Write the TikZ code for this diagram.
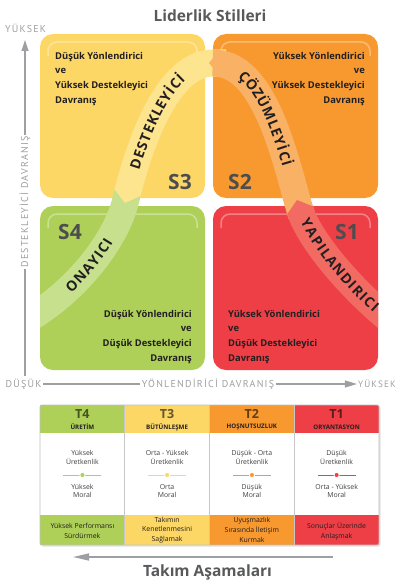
\documentclass[tikz,border=0pt]{standalone}
\usepackage{fontspec}
\setmainfont{Open Sans}
\newfontfamily\axisfont[LetterSpace=12]{PT Sans}
\usetikzlibrary{arrows.meta,decorations.markings}
\definecolor{qyel}{HTML}{FCD766}
\definecolor{qora}{HTML}{F7992F}
\definecolor{qgrn}{HTML}{AED058}
\definecolor{qred}{HTML}{EE3F46}
\definecolor{byel}{HTML}{FDE48E}
\definecolor{bora}{HTML}{F9B165}
\definecolor{bgrn}{HTML}{C6E08E}
\definecolor{bred}{HTML}{F26B63}
\definecolor{sgray}{HTML}{4D4D4F}
\definecolor{agray}{HTML}{9D9FA2}
\definecolor{tgray}{HTML}{58595B}
\definecolor{mgray}{HTML}{414042}
\definecolor{ink}{HTML}{231F20}
\newcommand\bandfont{\bfseries\fontsize{14}{14}\selectfont}
% #1 path, #2 letter/position list, #3 name prefix
\newcommand\bandword[3]{%
  \foreach \L/\p [count=\i] in {#2}{%
    \path[decorate, decoration={markings, mark=at position \p with {\node[bandletter] (#3\i) at (0pt,-5pt) {\L};}}] #1;
  }%
}
\begin{document}
\begin{tikzpicture}[x=1pt,y=-1pt,
  quad/.style={rounded corners=13pt, inner sep=0pt, minimum width=165pt, minimum height=164pt, draw=none},
  hilite/.style={white, opacity=.35, line width=1.5pt, rounded corners=9pt},
  band/.style={line width=27pt},
  tip/.style={-{Triangle[width=27pt,length=11pt]}},
  bandletter/.style={transform shape, anchor=base, inner sep=0pt, font=\bandfont, text=ink},
  boxtxt/.style={font=\bfseries\fontsize{9.4}{14.6}\selectfont, inner sep=0pt, text=ink},
  slab/.style={font=\bfseries\fontsize{21}{21}\selectfont, text=sgray, inner sep=0pt},
  axlab/.style={font=\axisfont\fontsize{10}{10}\selectfont, text=agray, inner sep=1.5pt},
  axline/.style={agray, line width=1.2pt},
  tT/.style={font=\bfseries\fontsize{12.5}{12.5}\selectfont, text=black, text opacity=.6, inner sep=0pt},
  tS/.style={font=\bfseries\fontsize{6.2}{7}\selectfont, text=ink, inner sep=0pt},
  tM/.style={font=\fontsize{6.9}{8.6}\selectfont, text=mgray, align=center, inner sep=0pt},
  tB/.style={font=\fontsize{6.9}{9.6}\selectfont, text=ink, align=center, inner sep=0pt},
]
\useasboundingbox (0,0) rectangle (396,586);

% title
\node[font=\bfseries\fontsize{15.5}{15.5}\selectfont, text=tgray] (title) at (210,16) {Liderlik Stilleri};

% quadrants
\node[quad, fill=qyel] (s3) at (122.5,116) {};
\node[quad, fill=qora] (s2) at (295.5,116) {};
\node[quad, fill=qgrn] (s4) at (122.5,288) {};
\node[quad, fill=qred] (s1) at (295.5,288) {};
\draw[hilite] (48,56) -- (48,42) -- (197,42) -- (197,56);
\draw[hilite] (221,56) -- (221,42) -- (370,42) -- (370,56);
\draw[hilite] (48,228) -- (48,214) -- (197,214) -- (197,228);
\draw[hilite] (221,228) -- (221,214) -- (370,214) -- (370,228);

% bands
\begin{scope}
\clip (40,0) rectangle (378,400);
\draw[band, bgrn] (128.75,188) -- (125,203) .. controls (116,238) and (80,288) .. (30,318);
\draw[band, byel, tip] (226,63) -- (213,63) .. controls (168,63) and (140,143) .. (125,203);
\draw[band, bora, tip] (301.5,215) -- (297,200) .. controls (279,132) and (258,63) .. (213,63) -- (209,63);
\draw[band, bred, tip] (392,322) .. controls (352,290) and (309,240) .. (297,200);
\end{scope}
\bandword{(30,318) .. controls (80,288) and (116,238) .. (125,203)}
  {O/53.0pt,N/64.95pt,A/76.2pt,Y/86.35pt,I/94.15pt,C/102.1pt,I/110.05pt}{on}
\bandword{(125,203) .. controls (140,143) and (168,63) .. (213,63)}
  {D/40.55pt,E/50.6pt,S/59.5pt,T/68.6pt,E/77.6pt,K/87.1pt,L/96.5pt,E/105.2pt,Y/114.4pt,İ/122.2pt,C/130.15pt,İ/138.1pt}{de}
\bandword{(213,63) .. controls (258,63) and (279,132) .. (297,200)}
  {Ç/35.0pt,Ö/46.0pt,Z/56.65pt,Ü/67.05pt,M/79.95pt,L/91.35pt,E/100.05pt,Y/109.25pt,İ/117.05pt,C/125.0pt,İ/132.95pt}{co}
\bandword{(297,200) .. controls (309,240) and (352,290) .. (392,322)}
  {Y/25.45pt,A/35.6pt,P/45.9pt,I/53.85pt,L/61.15pt,A/70.8pt,N/82.05pt,D/93.6pt,I/102.25pt,R/110.35pt,I/118.45pt,C/126.4pt,I/134.35pt}{ya}

% quadrant texts
\node[boxtxt, anchor=north west, align=left] (x3) at (55,52) {Düşük Yönlendirici\\ve\\Yüksek Destekleyici\\Davranış};
\node[boxtxt, anchor=north east, align=right] (x2) at (365,52) {Yüksek Yönlendirici\\ve\\Yüksek Destekleyici\\Davranış};
\node[boxtxt, anchor=north east, align=right] (x4) at (192,310) {Düşük Yönlendirici\\ve\\Düşük Destekleyici\\Davranış};
\node[boxtxt, anchor=north west, align=left] (x1) at (228,310) {Yüksek Yönlendirici\\ve\\Düşük Destekleyici\\Davranış};
\node[slab] (l3) at (180,182) {S3};
\node[slab] (l2) at (240,182) {S2};
\node[slab] (l4) at (70,232) {S4};
\node[slab] (l1) at (347,232) {S1};

% axes
\node[axlab] (ytop) at (25.5,28) {YÜKSEK};
\node[axlab, rotate=90] (vlab) at (25,202) {DESTEKLEYİCİ DAVRANIŞ};
\coordinate (vtop) at (25,40);
\coordinate (vbot) at (25,376);
\draw[axline, -{Triangle[width=7pt,length=11pt]}] (vlab.east) -- (vtop);
\draw[axline] (vlab.west) -- (vbot);
\node[axlab] (dusuk) at (23.5,384) {DÜŞÜK};
\node[axlab] (hlab) at (208,384) {YÖNLENDİRİCİ DAVRANIŞ};
\node[axlab, anchor=east, inner sep=0pt, font=\axisfont\fontsize{9.2}{9.2}\selectfont] (yright) at (396,384) {YÜKSEK};
\draw[axline] (dusuk.east) -- (hlab.west);
\draw[axline, -{Triangle[width=7pt,length=12pt]}] (hlab.east) -- ([xshift=-1pt]yright.west);

% table
\fill[black!12, rounded corners=2pt] (41,406) rectangle (380.5,546.5);
\fill[white, rounded corners=2pt] (40,405) rectangle (379,545);
\fill[qgrn] (40,405) rectangle (124.75,433);
\fill[qyel] (124.75,405) rectangle (209.5,433);
\fill[qora] (209.5,405) rectangle (294.25,433);
\fill[qred] (294.25,405) rectangle (379,433);
\fill[qgrn] (40,515) rectangle (124.75,545);
\fill[qyel] (124.75,515) rectangle (209.5,545);
\fill[qora] (209.5,515) rectangle (294.25,545);
\fill[qred] (294.25,515) rectangle (379,545);
\draw[black!25, line width=.8pt, rounded corners=2pt] (40,405) rectangle (379,545);
\foreach \xx in {124.75,209.5,294.25} \draw[black!22, line width=.8pt] (\xx,405) -- (\xx,545);

\node[tT] (h4) at (82.4,414) {T4};
\node[tT] (h3) at (167.1,414) {T3};
\node[tT] (h2) at (251.9,414) {T2};
\node[tT] (h1) at (336.6,414) {T1};
\node[tS] (n4) at (82.4,427) {ÜRETİM};
\node[tS] (n3) at (167.1,427) {BÜTÜNLEŞME};
\node[tS] (n2) at (251.9,427) {HOŞNUTSUZLUK};
\node[tS] (n1) at (336.6,427) {ORYANTASYON};

\node[tM] (a4) at (82.4,457.5) {Yüksek\\Üretkenlik};
\node[tM] (a3) at (167.1,457.5) {Orta - Yüksek\\Üretkenlik};
\node[tM] (a2) at (251.9,457.5) {Düşük - Orta\\Üretkenlik};
\node[tM] (a1) at (336.6,457.5) {Düşük\\Üretkenlik};
\node[tM] (b4) at (82.4,491) {Yüksek\\Moral};
\node[tM] (b3) at (167.1,491) {Orta\\Moral};
\node[tM] (b2) at (251.9,491) {Düşük\\Moral};
\node[tM] (b1) at (336.6,491) {Orta - Yüksek\\Moral};
\foreach \xx/\cc in {82.4/qgrn,167.1/qyel,251.9/qora,336.6/qred}{
  \draw[\cc, line width=1pt] (\xx-19,475) -- (\xx+19,475);
  \filldraw[fill=\cc, draw=white, line width=.8pt] (\xx,475) circle (2.6pt);
}
\node[tB] (c4) at (82.4,531) {Yüksek Performansı\\Sürdürmek};
\node[tB] (c3) at (167.1,530) {Takımın\\Kenetlenmesini\\Sağlamak};
\node[tB] (c2) at (251.9,530) {Uyuşmazlık\\Sırasında İletişim\\Kurmak};
\node[tB] (c1) at (336.6,531) {Sonuçlar Üzerinde\\Anlaşmak};

% bottom arrow and caption
\coordinate (ta) at (333,557);
\coordinate (tb) at (73,557);
\draw[agray, line width=1.3pt, -{Triangle[width=7pt,length=16pt]}] (ta) -- (tb);
\node[font=\bfseries\fontsize{15.5}{15.5}\selectfont, text=tgray] (cap) at (207.5,572) {Takım Aşamaları};
\end{tikzpicture}
\end{document}
